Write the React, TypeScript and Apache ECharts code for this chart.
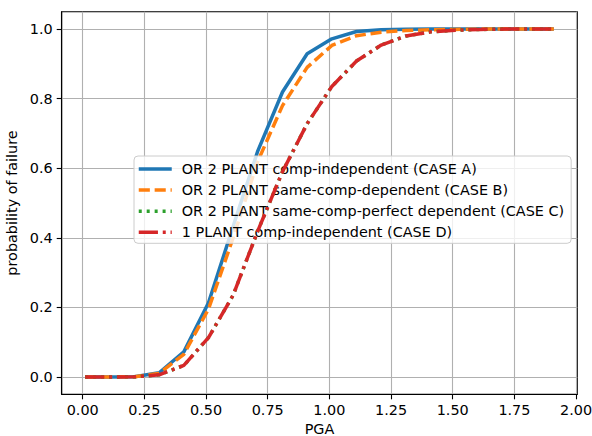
import React, { useEffect, useRef } from "react";
import * as echarts from "echarts";

const pga = [0.01, 0.11, 0.21, 0.31, 0.41, 0.51, 0.61, 0.71, 0.81, 0.91, 1.01, 1.11, 1.21, 1.31, 1.41, 1.51, 1.61, 1.71, 1.81, 1.91];
const caseA = [0, 0, 0.0006, 0.012, 0.072, 0.213, 0.433, 0.65, 0.819, 0.929, 0.972, 0.993, 0.998, 0.9995, 1, 1, 1, 1, 1, 1];
const caseB = [0, 0, 0.0005, 0.01, 0.065, 0.195, 0.4, 0.62, 0.78, 0.89, 0.953, 0.981, 0.991, 0.996, 0.998, 0.999, 1, 1, 1, 1];
const caseC = [0, 0, 0.0003, 0.006, 0.033, 0.113, 0.235, 0.42, 0.59, 0.728, 0.835, 0.908, 0.954, 0.98, 0.992, 0.997, 0.999, 1, 1, 1];
const caseD = [0, 0, 0.0003, 0.006, 0.033, 0.113, 0.235, 0.42, 0.59, 0.728, 0.835, 0.908, 0.954, 0.98, 0.992, 0.997, 0.999, 1, 1, 1];

const seriesNames = [
  "OR 2 PLANT comp-independent (CASE A)",
  "OR 2 PLANT same-comp-dependent (CASE B)",
  "OR 2 PLANT same-comp-perfect dependent (CASE C)",
  "1 PLANT comp-independent (CASE D)",
];
const xTicks = [0, 0.25, 0.5, 0.75, 1.0, 1.25, 1.5, 1.75, 2.0];
const yTicks = [0, 0.2, 0.4, 0.6, 0.8, 1.0];

const FONT = "DejaVu Sans";
const FS = 14.4;

export default function App() {
  const ref = useRef<HTMLDivElement>(null);
  useEffect(() => {
    if (!ref.current) return;
    const chart = echarts.init(ref.current, null, { renderer: "svg" });
    const mk = (vals: number[]) => pga.map((x, i) => [x, vals[i]]);
    const styles = [
      { color: "#1f77b4", type: "solid" as any, data: caseA },
      { color: "#ff7f0e", type: [11.1, 4.8], data: caseB },
      { color: "#2ca02c", type: [3, 4.95], data: caseC },
      { color: "#d62728", type: [19.2, 4.8, 3, 4.8], data: caseD },
    ];
    chart.setOption({
      animation: false,
      backgroundColor: "#ffffff",
      textStyle: { fontFamily: FONT },
      grid: {
        left: 61.7,
        right: 14.7,
        top: 11.7,
        bottom: 41.7,
        show: true,
        borderColor: "#000",
        borderWidth: 1.1,
        containLabel: false,
        outerBoundsMode: "none",
      },
      legend: {
        orient: "vertical",
        left: 134,
        top: 156,
        padding: [6, 7, 4, 3],
        itemWidth: 33,
        itemHeight: 14,
        itemGap: 7.1,
        backgroundColor: "rgba(255,255,255,0.8)",
        borderColor: "#cccccc",
        borderWidth: 1,
        borderRadius: 4,
        itemStyle: { opacity: 0 },
        lineStyle: { width: 3.5 },
        textStyle: { fontFamily: FONT, fontSize: FS, color: "#000", padding: [0, 0, 0, 5] },
        data: seriesNames,
      },
      xAxis: {
        type: "value",
        min: -0.085,
        max: 2.005,
        name: "PGA",
        nameLocation: "middle",
        nameGap: 27,
        nameTextStyle: { fontFamily: FONT, fontSize: FS, color: "#000", lineHeight: 12 },
        axisLine: { show: true, onZero: false, lineStyle: { color: "#000", width: 1.1 } },
        axisTick: { show: true, inside: false, length: 5, customValues: xTicks, lineStyle: { color: "#000", width: 1.1 } },
        axisLabel: {
          show: true,
          margin: 9,
          customValues: xTicks,
          formatter: (v: number) => v.toFixed(2),
          fontFamily: FONT,
          fontSize: FS,
          color: "#000",
        },
        splitLine: { show: true, lineStyle: { color: "#b0b0b0", width: 1.1 } },
      },
      yAxis: {
        type: "value",
        min: -0.05,
        max: 1.05,
        name: "probability of failure",
        nameLocation: "middle",
        nameGap: 38,
        nameTextStyle: { fontFamily: FONT, fontSize: FS, color: "#000" },
        axisLine: { show: true, onZero: false, lineStyle: { color: "#000", width: 1.1 } },
        axisTick: { show: true, inside: false, length: 5, customValues: yTicks, lineStyle: { color: "#000", width: 1.1 } },
        axisLabel: {
          show: true,
          margin: 9,
          customValues: yTicks,
          formatter: (v: number) => v.toFixed(1),
          fontFamily: FONT,
          fontSize: FS,
          color: "#000",
        },
        splitLine: { show: true, lineStyle: { color: "#b0b0b0", width: 1.1 } },
      },
      series: styles.map((s, i) => ({
        name: seriesNames[i],
        type: "line",
        data: mk(s.data),
        symbol: "none",
        showSymbol: false,
        smooth: false,
        color: s.color,
        lineStyle: { color: s.color, width: 3.5, type: s.type, cap: "butt" },
        z: 2 + i,
      })),
    });
    return () => chart.dispose();
  }, []);
  return (
    <div
      ref={ref}
      style={{ position: "fixed", left: 0, top: 0, width: 592, height: 436, background: "#fff" }}
    />
  );
}
